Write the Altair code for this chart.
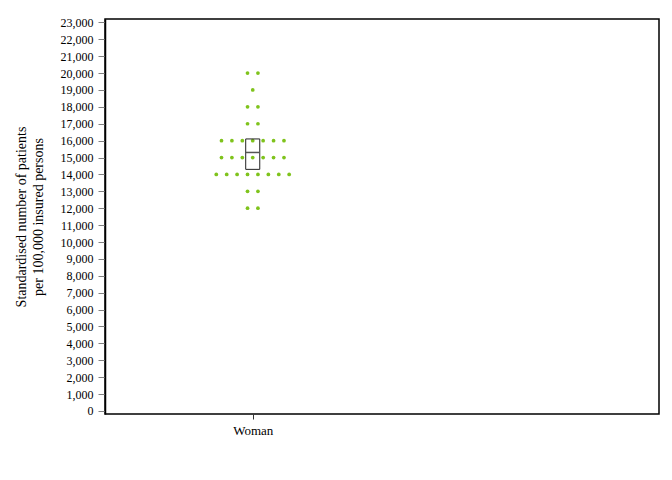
import altair as alt
import pandas as pd

# Data
dot_values = [12000, 13000, 14000, 15000, 16000, 17000, 18000, 19000, 20000]
dot_counts = [2, 2, 8, 7, 7, 2, 2, 1, 2]
category = "Woman"
q1_value = [14300]
median_value = [15300]
q3_value = [16100]
y_ticks = list(range(0, 23001, 1000))

CAT_POS = 1.0
SPACING = 0.0705
BOX_HALF = 0.0475

rows = []
for v, c in zip(dot_values, dot_counts):
    for _ in range(c):
        rows.append({"value": v, "group": category})
dots_df = pd.DataFrame(rows)

box_df = pd.DataFrame({"group": [category], "q1": q1_value,
                       "median": median_value, "q3": q3_value})

FONT = "Liberation Serif"

xscale = alt.Scale(domain=[0, 3.75], nice=False, zero=False)
yscale = alt.Scale(domain=[-180, 23200], nice=False, zero=False)

xaxis = alt.Axis(values=[CAT_POS], labelExpr="'Woman'", title=None, grid=False,
                 tickSize=5, tickColor="#333333", labelPadding=5,
                 domain=False, labelFont=FONT, labelFontSize=13,
                 labelColor="black")
YTITLE = ["Standardised number of patients", "per 100,000 insured persons"]
yaxis = alt.Axis(values=y_ticks, format=",.0f", grid=False, tickSize=7,
                 tickColor="#808080", domainColor="black", domainWidth=1.5,
                 labelFont=FONT, labelFontSize=12, labelColor="black",
                 labelPadding=5,
                 title=YTITLE,
                 titleFont=FONT, titleFontSize=14, titleFontWeight="normal",
                 titleColor="black", titlePadding=15, titleLineHeight=17)

dots = alt.Chart(dots_df).transform_window(
    rank="row_number()", groupby=["value"]
).transform_joinaggregate(
    n="count()", groupby=["value"]
).transform_calculate(
    xpos=f"{CAT_POS} + (datum.rank - 1 - (datum.n - 1) / 2) * {SPACING}"
).mark_circle(size=14, opacity=1, color="#7fc31c").encode(
    x=alt.X("xpos:Q", scale=xscale, axis=xaxis, title=None),
    y=alt.Y("value:Q", scale=yscale, axis=yaxis, title=YTITLE),
)

box = alt.Chart(box_df).transform_calculate(
    x1=f"{CAT_POS - BOX_HALF}", x2=f"{CAT_POS + BOX_HALF}"
).mark_rect(fill=None, fillOpacity=0, stroke="#222222", strokeWidth=1).encode(
    x=alt.X("x1:Q", scale=xscale, axis=xaxis, title=None),
    x2="x2:Q",
    y=alt.Y("q1:Q", scale=yscale, axis=yaxis, title=YTITLE),
    y2="q3:Q",
)

med = alt.Chart(box_df).transform_calculate(
    x1=f"{CAT_POS - BOX_HALF}", x2=f"{CAT_POS + BOX_HALF}"
).mark_rule(color="#555555", strokeWidth=1.5).encode(
    x=alt.X("x1:Q", scale=xscale, axis=xaxis, title=None),
    x2="x2:Q",
    y=alt.Y("median:Q", scale=yscale, axis=yaxis, title=YTITLE),
)

chart = alt.layer(dots, box, med).properties(
    width=554, height=395,
    background="white",
    autosize=alt.AutoSizeParams(type="none"),
    padding={"left": 97, "top": 11, "right": 5, "bottom": 50},
).configure_view(stroke="black", strokeWidth=1.5)

chart.save("out.html", embed_options={"renderer": "svg", "actions": False})
